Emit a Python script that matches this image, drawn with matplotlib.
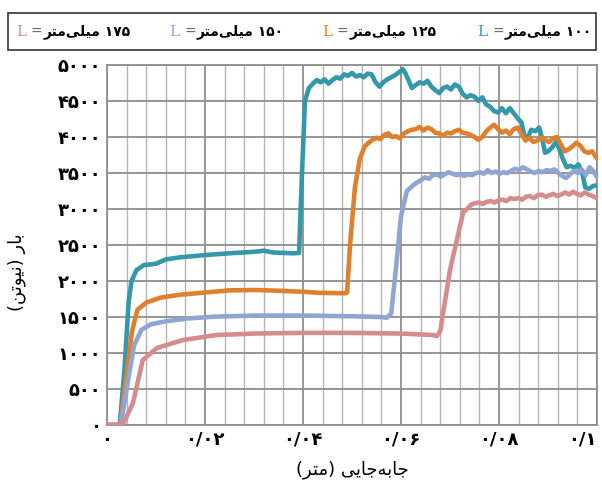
import matplotlib
matplotlib.use("Agg")
import matplotlib.pyplot as plt
from matplotlib.patches import Rectangle
from matplotlib.ticker import MultipleLocator

# ===================================================================
# Data
# ===================================================================
x_100 = [0, 0.0026, 0.0036, 0.0044, 0.0050, 0.0060, 0.0075, 0.0100, 0.0120, 0.0150,
         0.0200, 0.0250, 0.0300, 0.0320, 0.0340, 0.0360, 0.0380, 0.0392, 0.0398, 0.0404,
         0.0412, 0.0420, 0.0428, 0.0436, 0.0444, 0.0452, 0.0460, 0.0468, 0.0476, 0.0484,
         0.0492, 0.0500, 0.0508, 0.0516, 0.0524, 0.0532, 0.0540, 0.0548, 0.0556, 0.0564,
         0.0572, 0.0580, 0.0588, 0.0596, 0.0604, 0.0610, 0.0616, 0.0622, 0.0630, 0.0638,
         0.0646, 0.0654, 0.0662, 0.0670, 0.0678, 0.0686, 0.0694, 0.0702, 0.0710, 0.0718,
         0.0726, 0.0734, 0.0742, 0.0750, 0.0758, 0.0766, 0.0774, 0.0782, 0.0790, 0.0798,
         0.0806, 0.0814, 0.0822, 0.0830, 0.0838, 0.0846, 0.0852, 0.0858, 0.0866, 0.0874,
         0.0882, 0.0888, 0.0894, 0.0900, 0.0908, 0.0916, 0.0922, 0.0930, 0.0938, 0.0946,
         0.0954, 0.0962, 0.0970, 0.0976, 0.0984, 0.0992, 0.1000]
y_100 = [0, 0, 800, 1700, 2000, 2150, 2220, 2240, 2300, 2330,
         2360, 2385, 2405, 2420, 2395, 2390, 2385, 2390, 3500, 4500,
         4680, 4740, 4790, 4760, 4800, 4740, 4790, 4830, 4810, 4870,
         4850, 4890, 4840, 4860, 4830, 4880, 4870, 4760, 4700, 4760,
         4800, 4830, 4860, 4900, 4940, 4870, 4780, 4680, 4720, 4760,
         4740, 4780, 4700, 4650, 4610, 4680, 4700, 4660, 4730, 4700,
         4600, 4550, 4580, 4560, 4500, 4550, 4450, 4420, 4360, 4340,
         4400, 4330, 4400, 4330, 4260, 4200, 4000, 3990, 4100, 4080,
         4130, 3980, 3780, 3800, 3850, 3930, 3850, 3700, 3580, 3600,
         3570, 3620, 3500, 3300, 3280, 3320, 3330]

x_125 = [0, 0.0027, 0.0040, 0.0051, 0.0062, 0.0080, 0.0110, 0.0150, 0.0200, 0.0250,
         0.0300, 0.0350, 0.0400, 0.0435, 0.0486, 0.0490, 0.0496, 0.0506, 0.0516, 0.0526,
         0.0534, 0.0542, 0.0550, 0.0558, 0.0566, 0.0574, 0.0582, 0.0590, 0.0598, 0.0606,
         0.0614, 0.0622, 0.0630, 0.0638, 0.0646, 0.0654, 0.0662, 0.0670, 0.0678, 0.0686,
         0.0694, 0.0702, 0.0710, 0.0718, 0.0726, 0.0734, 0.0742, 0.0750, 0.0758, 0.0766,
         0.0774, 0.0782, 0.0790, 0.0798, 0.0806, 0.0814, 0.0822, 0.0830, 0.0838, 0.0846,
         0.0854, 0.0862, 0.0870, 0.0878, 0.0886, 0.0894, 0.0902, 0.0910, 0.0918, 0.0926,
         0.0934, 0.0942, 0.0950, 0.0958, 0.0966, 0.0974, 0.0982, 0.0990, 0.1000]
y_125 = [0, 0, 700, 1300, 1600, 1700, 1770, 1810, 1840, 1870,
         1875, 1865, 1850, 1835, 1830, 1840, 2500, 3300, 3700, 3870,
         3920, 3960, 3990, 3970, 4030, 4050, 4000, 4010, 3980, 4050,
         4080, 4100, 4110, 4140, 4090, 4130, 4110, 4060, 4050, 4020,
         4060, 4050, 4080, 4100, 4060, 4050, 4030, 4000, 3960, 4000,
         4080, 4130, 4170, 4110, 4060, 4090, 4040, 4110, 4130, 4040,
         3950, 3990, 3930, 3950, 3990, 3960, 3930, 3980, 4000, 3900,
         3800, 3830, 3870, 3920, 3880, 3800, 3780, 3800, 3700]

x_150 = [0, 0.0028, 0.0045, 0.0055, 0.0070, 0.0090, 0.0120, 0.0165, 0.0220, 0.0300,
         0.0400, 0.0500, 0.0560, 0.0571, 0.0580, 0.0590, 0.0600, 0.0612, 0.0625, 0.0633,
         0.0641, 0.0649, 0.0657, 0.0665, 0.0673, 0.0681, 0.0689, 0.0697, 0.0705, 0.0713,
         0.0721, 0.0729, 0.0737, 0.0745, 0.0753, 0.0761, 0.0769, 0.0777, 0.0785, 0.0793,
         0.0801, 0.0809, 0.0817, 0.0825, 0.0833, 0.0841, 0.0849, 0.0857, 0.0865, 0.0873,
         0.0881, 0.0889, 0.0897, 0.0905, 0.0913, 0.0921, 0.0929, 0.0937, 0.0945, 0.0953,
         0.0961, 0.0969, 0.0977, 0.0985, 0.0993, 0.1000]
y_150 = [0, 0, 700, 1100, 1320, 1400, 1440, 1480, 1505, 1520,
         1520, 1510, 1500, 1490, 1550, 2200, 2900, 3250, 3330, 3370,
         3400, 3440, 3420, 3470, 3480, 3450, 3480, 3510, 3490, 3470,
         3480, 3460, 3480, 3470, 3500, 3510, 3490, 3540, 3500, 3520,
         3490, 3510, 3500, 3530, 3560, 3540, 3580, 3550, 3520, 3500,
         3530, 3510, 3540, 3530, 3550, 3500, 3460, 3430, 3480, 3530,
         3500, 3550, 3470, 3580, 3520, 3440]

x_175 = [0, 0.0032, 0.0053, 0.0073, 0.0102, 0.0155, 0.0224, 0.0300, 0.0400, 0.0500,
         0.0600, 0.0665, 0.0673, 0.0680, 0.0700, 0.0727, 0.0735, 0.0743, 0.0751, 0.0759,
         0.0767, 0.0775, 0.0783, 0.0791, 0.0799, 0.0807, 0.0815, 0.0823, 0.0831, 0.0839,
         0.0847, 0.0855, 0.0863, 0.0871, 0.0879, 0.0887, 0.0895, 0.0903, 0.0911, 0.0919,
         0.0927, 0.0935, 0.0943, 0.0951, 0.0959, 0.0967, 0.0975, 0.0983, 0.0991, 0.1000]
y_175 = [0, 0, 306, 903, 1070, 1180, 1250, 1270, 1280, 1280,
         1270, 1250, 1236, 1300, 2153, 2958, 3000, 3060, 3080, 3090,
         3070, 3100, 3110, 3090, 3120, 3130, 3110, 3150, 3140, 3150,
         3130, 3170, 3180, 3150, 3190, 3200, 3170, 3190, 3210, 3180,
         3200, 3230, 3200, 3240, 3210, 3190, 3230, 3200, 3180, 3150]

lengths = ["۱۰۰", "۱۲۵", "۱۵۰", "۱۷۵"]
colors = ["#3598aa", "#e0802e", "#8fa6d3", "#d48c8c"]

y_ticks = [0, 500, 1000, 1500, 2000, 2500, 3000, 3500, 4000, 4500, 5000]
y_ticklabels = ["۰", "۵۰۰", "۱۰۰۰", "۱۵۰۰", "۲۰۰۰", "۲۵۰۰", "۳۰۰۰", "۳۵۰۰", "۴۰۰۰", "۴۵۰۰", "۵۰۰۰"]
x_ticks = [0, 0.02, 0.04, 0.06, 0.08, 0.1]
x_ticklabels = ["۰", "۰/۰۲", "۰/۰۴", "۰/۰۶", "۰/۰۸", "۰/۱"]

# ===================================================================
# Simple Persian shaping (matplotlib has no RTL / joining support)
# ===================================================================
FORMS = {"ا": ("\uFE8D", "\uFE8E", None, None),
         "ب": ("\uFE8F", "\uFE90", "\uFE91", "\uFE92"),
         "ت": ("\uFE95", "\uFE96", "\uFE97", "\uFE98"),
         "ج": ("\uFE9D", "\uFE9E", "\uFE9F", "\uFEA0"),
         "ر": ("\uFEAD", "\uFEAE", None, None),
         "ل": ("\uFEDD", "\uFEDE", "\uFEDF", "\uFEE0"),
         "م": ("\uFEE1", "\uFEE2", "\uFEE3", "\uFEE4"),
         "ن": ("\uFEE5", "\uFEE6", "\uFEE7", "\uFEE8"),
         "ه": ("\uFEE9", "\uFEEA", "\uFEEB", "\uFEEC"),
         "و": ("\uFEED", "\uFEEE", None, None),
         "ی": ("\uFEEF", "\uFEF0", "\uFEF3", "\uFEF4")}


def fa(s):
    out = []
    for i, ch in enumerate(s):
        if ch not in FORMS:
            if ch != "\u200c":
                out.append({"(": ")", ")": "("}.get(ch, ch))
            continue
        prev = s[i - 1] if i > 0 else ""
        nxt = s[i + 1] if i + 1 < len(s) else ""
        j_prev = prev in FORMS and FORMS[prev][2] is not None
        j_next = FORMS[ch][2] is not None and nxt in FORMS
        if j_prev and j_next:
            out.append(FORMS[ch][3])
        elif j_prev:
            out.append(FORMS[ch][1])
        elif j_next:
            out.append(FORMS[ch][2])
        else:
            out.append(FORMS[ch][0])
    return "".join(reversed(out))


# ===================================================================
# Plot
# ===================================================================
plt.rcParams["font.family"] = ["DejaVu Sans"]

fig = plt.figure(figsize=(6.02, 4.86), dpi=100)
ax = fig.add_axes([107 / 602, 61 / 486, 490 / 602, 360 / 486])

series = [(x_100, y_100), (x_125, y_125), (x_150, y_150), (x_175, y_175)]
for (xs, ys), c in zip(series, colors):
    ax.plot(xs, ys, color=c, lw=3.3, solid_joinstyle="round", solid_capstyle="round", zorder=3)

ax.set_xlim(0, 0.1)
ax.set_ylim(0, 5000)
ax.set_xticks(x_ticks)
ax.set_xticklabels(x_ticklabels, fontsize=13, fontweight="bold")
ax.get_xticklabels()[-1].set_horizontalalignment("right")
ax.set_yticks(y_ticks)
ax.set_yticklabels(y_ticklabels, fontsize=13, fontweight="bold")
ax.xaxis.set_minor_locator(MultipleLocator(0.004))
ax.tick_params(which="both", length=0)
ax.tick_params(axis="y", pad=4)
ax.tick_params(axis="x", pad=4)
ax.grid(which="major", color="#8e8e8e", lw=1.3, zorder=0)
ax.grid(which="minor", axis="x", color="#b4b4b4", lw=1.0, zorder=0)
for sp in ax.spines.values():
    sp.set_color("#8e8e8e")
    sp.set_linewidth(1.3)

# axis titles
fig.text(17 / 602, 1 - 272 / 486, fa("بار (نیوتن)"), rotation=90, fontsize=13,
         ha="center", va="center")
fig.text(352 / 602, 1 - 470 / 486, fa("جابه\u200cجایی (متر)"), fontsize=13,
         ha="center", va="center")

# legend box (right-to-left order)
fig.patches.append(Rectangle((8 / 602, 1 - 50 / 486), 588 / 602, 37 / 486,
                             transform=fig.transFigure, fill=False,
                             edgecolor="#333333", lw=1.2))
x_left = [477, 322, 169, 16]
for xl, n, c in zip(x_left, lengths, colors):
    yy = 1 - 32 / 486
    fig.text(xl / 602, yy, "L", color=c, fontsize=11, family="DejaVu Serif",
             ha="left", va="center")
    fig.text((xl + 15) / 602, yy, "=", color="#666666", fontsize=10,
             ha="left", va="center")
    fig.text((xl + 28) / 602, yy, fa("میلی\u200cمتر") + " " + n, fontsize=10,
             fontweight="bold", ha="left", va="center")

fig.savefig("out.png", dpi=100)
